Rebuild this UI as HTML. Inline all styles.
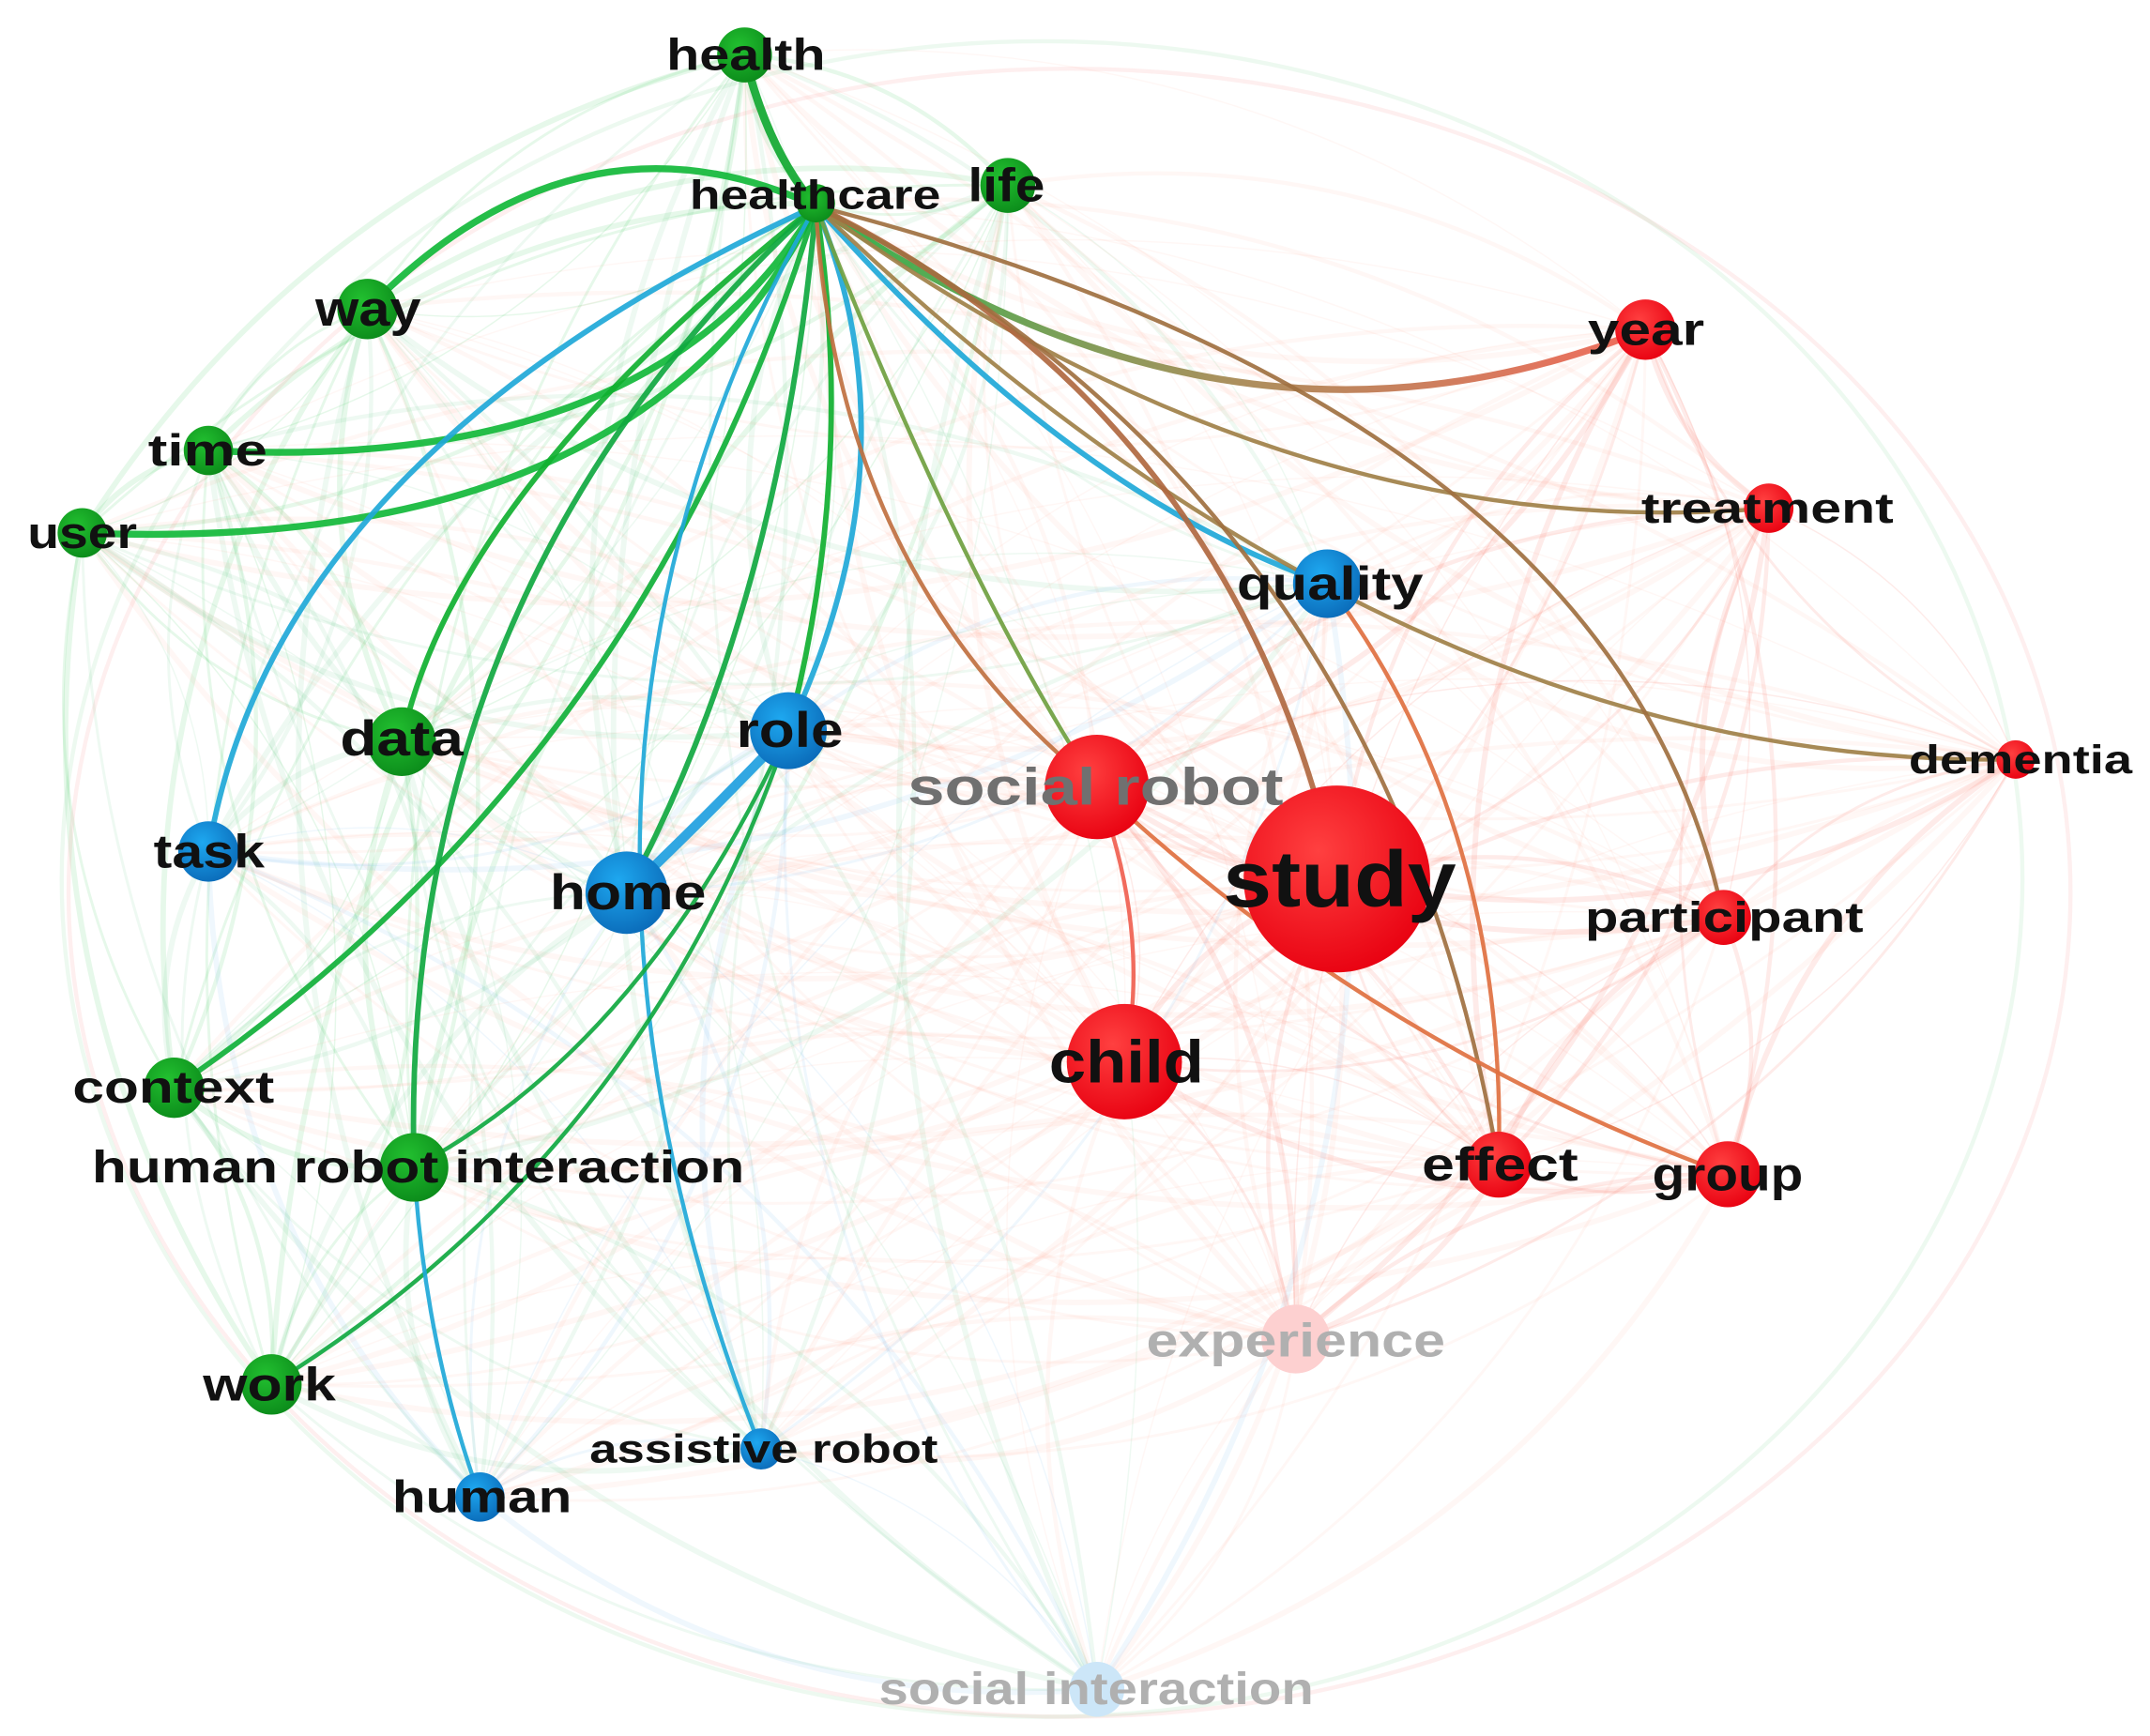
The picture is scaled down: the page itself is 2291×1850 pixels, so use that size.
<!DOCTYPE html>
<html><head><meta charset="utf-8"><style>
html,body{margin:0;padding:0;background:#fff;}
svg{display:block;}
text{font-family:"Liberation Sans",sans-serif;font-weight:bold;text-anchor:middle;dominant-baseline:central;}
</style></head><body>
<svg id="s" width="2291" height="1850" viewBox="0 0 1568 1264" preserveAspectRatio="none" xmlns="http://www.w3.org/2000/svg">
<defs>
<radialGradient id="gG" cx="40%" cy="35%" r="70%"><stop offset="0" stop-color="#22c030"/><stop offset="1" stop-color="#0b8a1a"/></radialGradient>
<radialGradient id="gB" cx="40%" cy="35%" r="70%"><stop offset="0" stop-color="#1ea8f0"/><stop offset="1" stop-color="#0a6ab8"/></radialGradient>
<radialGradient id="gR" cx="40%" cy="35%" r="70%"><stop offset="0" stop-color="#ff4040"/><stop offset="1" stop-color="#e80010"/></radialGradient>
<linearGradient id="gyr" gradientUnits="userSpaceOnUse" x1="595" y1="150" x2="1200" y2="240"><stop offset="0" stop-color="#20b040"/><stop offset="0.5" stop-color="#a08850"/><stop offset="1" stop-color="#f06050"/></linearGradient>
</defs>
<g id="bg" fill="none"></g>
<g id="fg" fill="none" stroke-linecap="round"></g>
<g id="nodes"></g>
<g id="labels"></g>
</svg>
<script>
var N={
health:[543,40,20,'G'],healthcare:[595,148,14,'G'],life:[735,135,20,'G'],way:[268,225,22,'G'],time:[152,328,18,'G'],user:[60,388,18,'G'],
data:[293,540,25,'G'],task:[152,620,22,'B'],role:[575,532,28,'B'],home:[457,650,30,'B'],context:[127,792,22,'G'],hri:[302,850,25,'G'],
work:[198,1008,22,'G'],assist:[555,1055,15,'B'],human:[350,1090,18,'B'],si:[800,1230,20,'LB'],exp:[945,975,25,'LR'],
sr:[800,573,38,'R'],study:[975,640,68,'R'],child:[820,773,42,'R'],year:[1200,240,22,'R'],treat:[1290,370,18,'R'],quality:[968,425,25,'B'],
dementia:[1470,553,14,'R'],part:[1257,668,20,'R'],effect:[1093,848,24,'R'],group:[1260,855,24,'R']};
var ns='http://www.w3.org/2000/svg';
function el(t,a,p){var e=document.createElementNS(ns,t);for(var k in a)e.setAttribute(k,a[k]);document.getElementById(p).appendChild(e);return e;}
function curve(a,b,bend){var x1=a[0],y1=a[1],x2=b[0],y2=b[1];var mx=(x1+x2)/2,my=(y1+y2)/2;var dx=x2-x1,dy=y2-y1;
var cx=mx-dy*bend,cy=my+dx*bend;return 'M'+x1+' '+y1+' Q'+cx+' '+cy+' '+x2+' '+y2;}
var keys=Object.keys(N);
function isR(t){return t[t.length-1]=='R';}
for(var i=0;i<keys.length;i++)for(var j=i+1;j<keys.length;j++){var a=N[keys[i]],b=N[keys[j]];
 var c;var ta=a[3],tb=b[3];
 if(isR(ta)&&isR(tb)) c='rgba(250,120,110,0.15)';
 else if(isR(ta)||isR(tb)) c='rgba(250,140,120,0.07)';
 else if(ta=='G'&&tb=='G') c='rgba(60,200,90,0.13)';
 else if(ta=='G'||tb=='G') c='rgba(90,200,130,0.10)';
 else c='rgba(110,180,240,0.11)';
 var w=1+((i*7+j*3)%4);el('path',{d:curve(a,b,((i+j)%2?0.2:-0.2)),stroke:c,'stroke-width':w},'bg');}
el('ellipse',{cx:780,cy:650,rx:730,ry:600,stroke:'rgba(250,120,120,0.12)','stroke-width':3},'bg');
el('ellipse',{cx:760,cy:640,rx:715,ry:610,stroke:'rgba(80,200,110,0.10)','stroke-width':3},'bg');
var H=[595,150];
function q(a,c,b,col,w){el('path',{d:'M'+a[0]+' '+a[1]+' Q'+c[0]+' '+c[1]+' '+b[0]+' '+b[1],stroke:col,'stroke-width':w,opacity:0.92},'fg');}
var E=[
['health',[560,110],'#10a830',6],['way',[420,70],'#12b83a',5],['time',[480,345],'#12b83a',5],['user',[470,405],'#12b83a',5],
['data',[330,360],'#10b030',4],['task',[200,330],'#20a8d8',4],['context',[470,560],'#10b038',4],['hri',[290,430],'#10a840',4],
['role',[670,330],'#20a8d8',4],['role',[625,340],'#10b030',4],['home',[570,440],'#10a840',4],['assist',[360,560],'#20a8d8',3],
['quality',[780,360],'#20a8d8',4],['year',[900,360],'url(#gyr)',5],['treat',[940,400],'#a08048',3],['dementia',[1020,560],'#a08048',3],
['part',[1180,300],'#a07040',3],['study',[900,300],'#b06840',4],['sr',[610,420],'#c07040',3],['sr',[700,420],'#70a040',3],
['effect',[1010,360],'#a07040',3]];
E.forEach(function(e){var b=N[e[0]];q(H,e[1],b,e[2],e[3]);});
q(N.role,[520,590],N.home,'#20a0e0',7);
q(N.role,[470,760],N.hri,'#10a840',3);
q(N.role,[470,840],N.work,'#10a840',3);
q(N.hri,[310,980],N.human,'#20a8d8',3);
q(N.sr,[840,680],N.child,'#f06050',3);
q(N.sr,[1000,760],N.group,'#e07040',3);
q(N.quality,[1100,600],N.effect,'#e07040',3);
keys.forEach(function(k){var n=N[k];var f={G:'url(#gG)',B:'url(#gB)',R:'url(#gR)',LB:'#cce6f8',LR:'#fdd0d0'}[n[3]];
 el('circle',{cx:n[0],cy:n[1],r:n[2],fill:f},'nodes');});
var L=[['health',486,602,40,32,'#111'],['healthcare',503,686,142,30,'#111'],['life',706,762,135,34,'#111'],['way',230,307,225,36,'#111'],['time',108,195,328,32,'#111'],
['user',20,100,388,32,'#111'],['data',248,338,538,36,'#111'],['task',112,193,620,34,'#111'],['role',537,615,532,36,'#111'],['home',401,515,650,36,'#111'],
['context',53,200,792,33,'#111'],['human robot interaction',67,543,850,33,'#111'],['work',148,245,1008,34,'#111'],['assistive robot',430,684,1055,29,'#111'],
['human',286,417,1090,33,'#111'],['social interaction',641,958,1230,33,'#b0b0b0'],['experience',836,1054,976,34,'#b0b0b0'],['social robot',662,936,573,38,'#707070'],
['study',892,1062,640,58,'#111'],['child',765,878,773,44,'#111'],['year',1158,1243,240,33,'#111'],['treatment',1197,1381,370,31,'#111'],['quality',902,1038,425,34,'#111'],
['dementia',1392,1555,553,29,'#111'],['participant',1156,1359,668,31,'#111'],['effect',1037,1151,848,34,'#111'],['group',1205,1315,855,34,'#111']];
L.forEach(function(l){var t=el('text',{x:(l[1]+l[2])/2,y:l[3],'font-size':l[4],fill:l[5],textLength:l[2]-l[1],lengthAdjust:'spacingAndGlyphs'},'labels');t.textContent=l[0];});
</script>
</body></html>
